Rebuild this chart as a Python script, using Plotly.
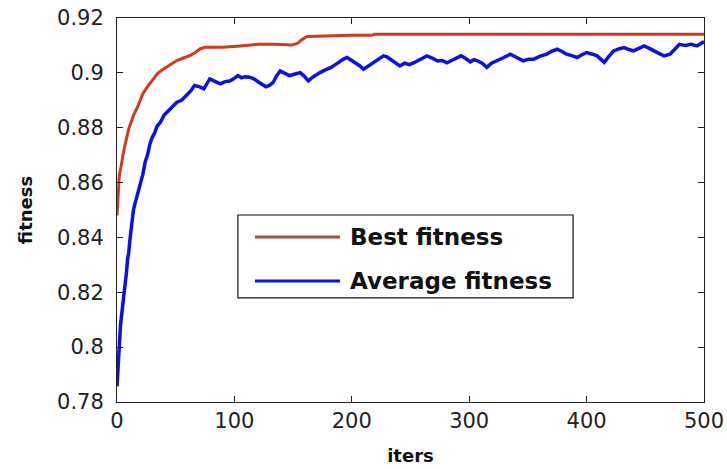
import plotly.graph_objects as go

# ---- data ----
best_iter = [0, 1, 2, 4, 5, 7, 10, 12, 14, 18, 22, 26, 31, 35, 40, 45, 51, 57, 62, 67, 71, 75,
             90, 105, 120, 135, 149, 154, 157, 162, 176, 200, 217, 219, 500]
best_val = [0.848, 0.855, 0.8627, 0.867, 0.870, 0.874, 0.8796, 0.882, 0.8845, 0.888, 0.8924,
            0.895, 0.8978, 0.900, 0.9015, 0.903, 0.9045, 0.9055, 0.9063, 0.9075, 0.9088, 0.9093,
            0.9093, 0.9098, 0.9104, 0.9104, 0.9102, 0.9108, 0.9120, 0.9133, 0.9135, 0.9137,
            0.9137, 0.9141, 0.9141]

avg_iter = [0, 1, 2, 3, 4, 5, 6, 7, 8, 9, 10, 11, 12, 13, 14, 15, 17, 20, 22, 24, 26, 28, 30,
            32, 34, 37, 40, 44, 47, 51, 55, 59, 63, 66, 70, 74, 77, 79, 83, 88, 92, 96, 100,
            103, 106, 109, 113, 117, 121, 124, 127, 130, 133, 136, 139, 143, 147, 151, 156,
            159, 163, 167, 170, 173, 177, 182, 186, 190, 193, 196, 200, 204, 207, 210, 214,
            218, 222, 227, 230, 233, 237, 241, 245, 249, 253, 258, 264, 268, 273, 277, 281,
            285, 289, 293, 297, 301, 304, 307, 311, 315, 319, 324, 329, 335, 340, 346, 351,
            355, 360, 366, 370, 375, 379, 383, 388, 392, 396, 400, 405, 409, 412, 415, 419,
            423, 428, 432, 436, 440, 445, 449, 453, 457, 462, 466, 471, 475, 479, 484, 489,
            494, 497, 500]
avg_val = [0.7857, 0.7950, 0.8030, 0.8080, 0.8120, 0.8154, 0.8200, 0.8239, 0.8270, 0.8320,
           0.8345, 0.8390, 0.8433, 0.8460, 0.8500, 0.8518, 0.8550, 0.8595, 0.8630, 0.8675,
           0.8700, 0.8740, 0.8765, 0.8780, 0.8805, 0.8820, 0.8845, 0.8863, 0.8875, 0.8893,
           0.8900, 0.8918, 0.8935, 0.8954, 0.8950, 0.8942, 0.8965, 0.8978, 0.8970, 0.8960,
           0.8968, 0.8970, 0.8980, 0.8990, 0.8982, 0.8986, 0.8984, 0.8977, 0.8965, 0.8955,
           0.8949, 0.8955, 0.8965, 0.8990, 0.9007, 0.8998, 0.8990, 0.8995, 0.9001, 0.8990,
           0.8971, 0.8985, 0.8995, 0.9001, 0.9010, 0.9019, 0.9030, 0.9043, 0.9050, 0.9056,
           0.9045, 0.9037, 0.9025, 0.9013, 0.9025, 0.9037, 0.9050, 0.9062, 0.9058, 0.9050,
           0.9038, 0.9025, 0.9035, 0.9030, 0.9037, 0.9050, 0.9062, 0.9055, 0.9043, 0.9045,
           0.9037, 0.9045, 0.9055, 0.9062, 0.9052, 0.9040, 0.9048, 0.9044, 0.9035, 0.9020,
           0.9035, 0.9044, 0.9055, 0.9068, 0.9058, 0.9044, 0.9050, 0.9050, 0.9060, 0.9068,
           0.9078, 0.9086, 0.9078, 0.9068, 0.9062, 0.9056, 0.9066, 0.9074, 0.9068, 0.9062,
           0.9050, 0.9038, 0.9060, 0.9080, 0.9088, 0.9092, 0.9085, 0.9080, 0.9090, 0.9098,
           0.9090, 0.9080, 0.9070, 0.9062, 0.9068, 0.9085, 0.9104, 0.9100, 0.9104, 0.9098,
           0.9108, 0.9114]

x_ticks = [0, 100, 200, 300, 400, 500]
x_tick_text = ["0", "100", "200", "300", "400", "500"]
y_ticks = [0.78, 0.80, 0.82, 0.84, 0.86, 0.88, 0.90, 0.92]
y_tick_text = ["0.78", "0.8", "0.82", "0.84", "0.86", "0.88", "0.9", "0.92"]

series_names = ["Best fitness", "Average fitness"]
line_colors = ["#D23A1E", "#0A10E6"]
legend_colors = ["#A5533A", "#0A10E6"]

fig = go.Figure()
fig.add_trace(go.Scatter(x=best_iter, y=best_val, mode="lines", name=series_names[0],
                         line=dict(color=line_colors[0], width=3), showlegend=False))
fig.add_trace(go.Scatter(x=avg_iter, y=avg_val, mode="lines", name=series_names[1],
                         line=dict(color=line_colors[1], width=3.5), showlegend=False))

tick_font = dict(family="DejaVu Sans", size=21, color="#222222")
title_font = dict(family="DejaVu Sans", size=18, color="#111111")

fig.update_xaxes(range=[0, 500], tickvals=x_ticks, ticktext=x_tick_text, automargin=False,
                 showgrid=False, zeroline=False, showline=True, linecolor="#222222", linewidth=1,
                 mirror="ticks", ticks="inside", ticklen=6, tickcolor="#222222",
                 tickfont=tick_font,
                 title=dict(text="<b>iters</b>", font=title_font, standoff=17))
fig.update_yaxes(range=[0.78, 0.92], tickvals=y_ticks, ticktext=y_tick_text, automargin=False,
                 showgrid=False, zeroline=False, showline=True, linecolor="#222222", linewidth=1,
                 mirror="ticks", ticks="inside", ticklen=6, tickcolor="#222222",
                 tickfont=tick_font, ticklabelstandoff=8,
                 title=dict(text="<b>fitness</b>", font=title_font, standoff=19))

# manual legend box (MATLAB-style, long line samples)
lx0, lx1, ly0, ly1 = 0.206, 0.777, 0.271, 0.487
fig.add_shape(type="rect", xref="paper", yref="paper", x0=lx0, x1=lx1, y0=ly0, y1=ly1,
              line=dict(color="#111111", width=1.2), fillcolor="white")
leg_y = [0.43, 0.315]
for name, col, yy in zip(series_names, legend_colors, leg_y):
    fig.add_shape(type="line", xref="paper", yref="paper", x0=0.235, x1=0.38, y0=yy, y1=yy,
                  line=dict(color=col, width=3))
    fig.add_annotation(xref="paper", yref="paper", x=0.394, y=yy, text="<b>%s</b>" % name,
                       showarrow=False, xanchor="left", yanchor="middle",
                       font=dict(family="DejaVu Sans", size=23, color="#111111"))

fig.update_layout(width=727, height=469, margin=dict(l=117, r=23, t=18, b=67),
                  paper_bgcolor="white", plot_bgcolor="white")

fig.write_html("out.html")
